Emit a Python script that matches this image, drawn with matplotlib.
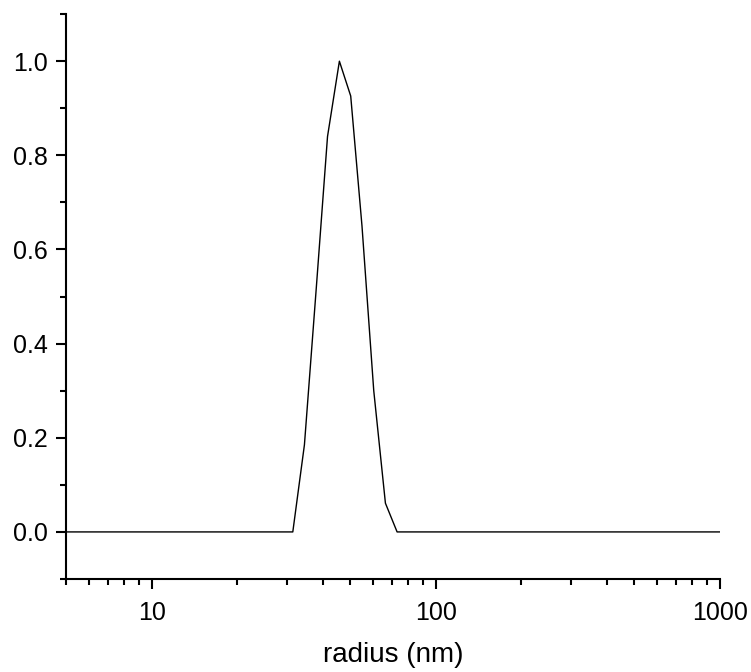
import matplotlib
matplotlib.use('Agg')
import matplotlib.pyplot as plt
from matplotlib.ticker import MultipleLocator, LogLocator, NullFormatter, FixedLocator, FixedFormatter

plt.rcParams['font.family'] = ['Liberation Sans', 'DejaVu Sans']

# size distribution
radius = [5, 31.4, 34.5, 38.0, 41.6, 45.8, 50.2, 55.0, 60.5, 66.5, 73.1, 1000]
intensity = [0, 0, 0.185, 0.52, 0.84, 1.0, 0.926, 0.65, 0.30, 0.061, 0, 0]

xticks = [10, 100, 1000]
xticklabels = ['10', '100', '1000']

fig = plt.figure(figsize=(7.51, 6.72), dpi=100)
ax = fig.add_axes([0.0879, 0.1384, 0.8708, 0.8406])

ax.plot(radius, intensity, color='black', linewidth=1.0)

ax.set_xscale('log')
ax.set_xlim(5, 1000)
ax.set_ylim(-0.1, 1.1)

ax.xaxis.set_major_locator(FixedLocator(xticks))
ax.xaxis.set_major_formatter(FixedFormatter(xticklabels))
ax.xaxis.set_minor_locator(LogLocator(base=10, subs=range(2, 10)))
ax.xaxis.set_minor_formatter(NullFormatter())

ax.yaxis.set_major_locator(FixedLocator([0.0, 0.2, 0.4, 0.6, 0.8, 1.0]))
ax.yaxis.set_major_formatter(FixedFormatter(['0.0', '0.2', '0.4', '0.6', '0.8', '1.0']))
ax.yaxis.set_minor_locator(MultipleLocator(0.1))

for side in ['top', 'right']:
    ax.spines[side].set_visible(False)
for side in ['left', 'bottom']:
    ax.spines[side].set_linewidth(1.5)

ax.tick_params(which='major', direction='out', length=7, width=1.5, labelsize=18, pad=6)
ax.tick_params(axis='x', which='major', pad=9)
ax.tick_params(which='minor', direction='out', length=4, width=1.5)

ax.set_xlabel('radius (nm)', fontsize=20, labelpad=12)

fig.savefig('out.png', dpi=100)
